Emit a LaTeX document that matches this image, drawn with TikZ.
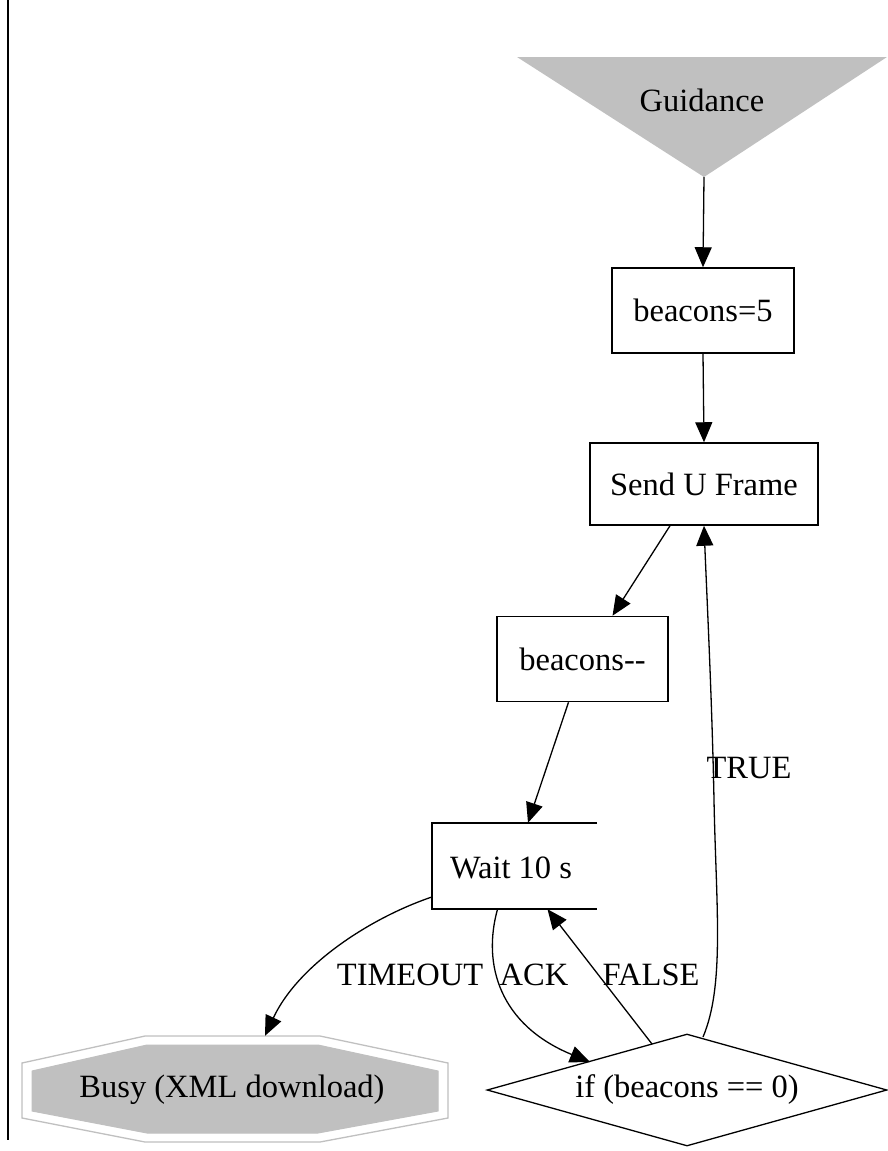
\documentclass[tikz,border=0pt]{standalone}
\usepackage{fontspec}
\setmainfont{Liberation Serif}
\usetikzlibrary{arrows.meta,shapes.geometric}
\definecolor{fillgray}{HTML}{C0C0C0}
\begin{document}
\begin{tikzpicture}[x=1pt,y=-1pt,
  font=\fontsize{32.5}{38}\selectfont,
  box/.style={draw,line width=1.5pt,inner sep=0pt},
  plain/.style={inner sep=0pt},
  link/.style={line width=1.3pt,-{Triangle[length=20pt,width=17pt]}},
  lbl/.style={inner sep=0pt}]
\useasboundingbox (0,0) rectangle (887,1151);

% left margin rule
\draw[line width=1.5pt] (8,0) -- (8,1140);

% start: inverted triangle
\fill[fillgray] (517,57) -- (887,57) -- (704,177) -- cycle;
\node[plain] (guid) at (702,100) {Guidance};
\coordinate (gapex) at (704,177);

% process boxes
\node[box,minimum width=182pt,minimum height=85pt] (b5) at (703,310.5) {beacons=5};
\node[box,minimum width=228pt,minimum height=82pt] (send) at (704,484) {Send U Frame};
\node[box,minimum width=171pt,minimum height=85pt] (dec) at (582.5,659) {beacons{-}{-}};

% wait box, open on its right side
\node[plain,minimum width=165pt,minimum height=86pt] (wait) at (514.5,866) {};
\draw[line width=1.5pt] (wait.north east) -- (wait.north west) -- (wait.south west) -- (wait.south east);
\node[plain] at (511,868) {Wait 10 s};

% decision diamond
\node[draw,line width=1.3pt,shape=diamond,aspect=3.57,inner sep=0pt,
      minimum width=400pt,minimum height=112pt] (cond) at (687,1090) {if (beacons == 0)};

% busy: double octagon
\filldraw[draw=fillgray,line width=1.3pt,fill=white]
  (22,1063) -- (145,1036) -- (320,1036) -- (448,1063) -- (448,1118) -- (320,1142) -- (145,1142) -- (22,1118) -- cycle;
\filldraw[draw=fillgray,line width=1pt,fill=fillgray]
  (32,1071) -- (147,1045) -- (318,1045) -- (438,1071) -- (438,1111) -- (318,1133) -- (147,1133) -- (32,1111) -- cycle;
\node[plain,minimum width=426pt,minimum height=106pt] (busy) at (235,1089) {};
\node[plain] at (232,1090) {Busy (XML download)};

% connectors
\draw[link] (gapex) -- (b5.north);
\draw[link] (b5.south) -- (send.north);
\draw[link] ([xshift=-34pt]send.south) -- ([xshift=30pt]dec.north);
\draw[link] ([xshift=-14pt]dec.south) -- ([xshift=13.5pt]wait.north);
\draw[link] ([yshift=-31pt]wait.west) .. controls (370,918) and (298,965) .. ([xshift=30pt]busy.north);
\draw[link] ([xshift=-17pt]wait.south) .. controls (482,965) and (500,1025) .. (590,1062);
\draw[link] (652,1044) -- ([xshift=33pt]wait.south);
\draw[link] (703,1037) .. controls (725,985) and (716,905) .. (714,800) .. controls (712,700) and (707,600) .. (send.south);

% edge labels
\node[lbl] at (410,975) {TIMEOUT};
\node[lbl] at (534,975) {ACK};
\node[lbl] at (651,975) {FALSE};
\node[lbl] at (749,768) {TRUE};
\end{tikzpicture}
\end{document}
